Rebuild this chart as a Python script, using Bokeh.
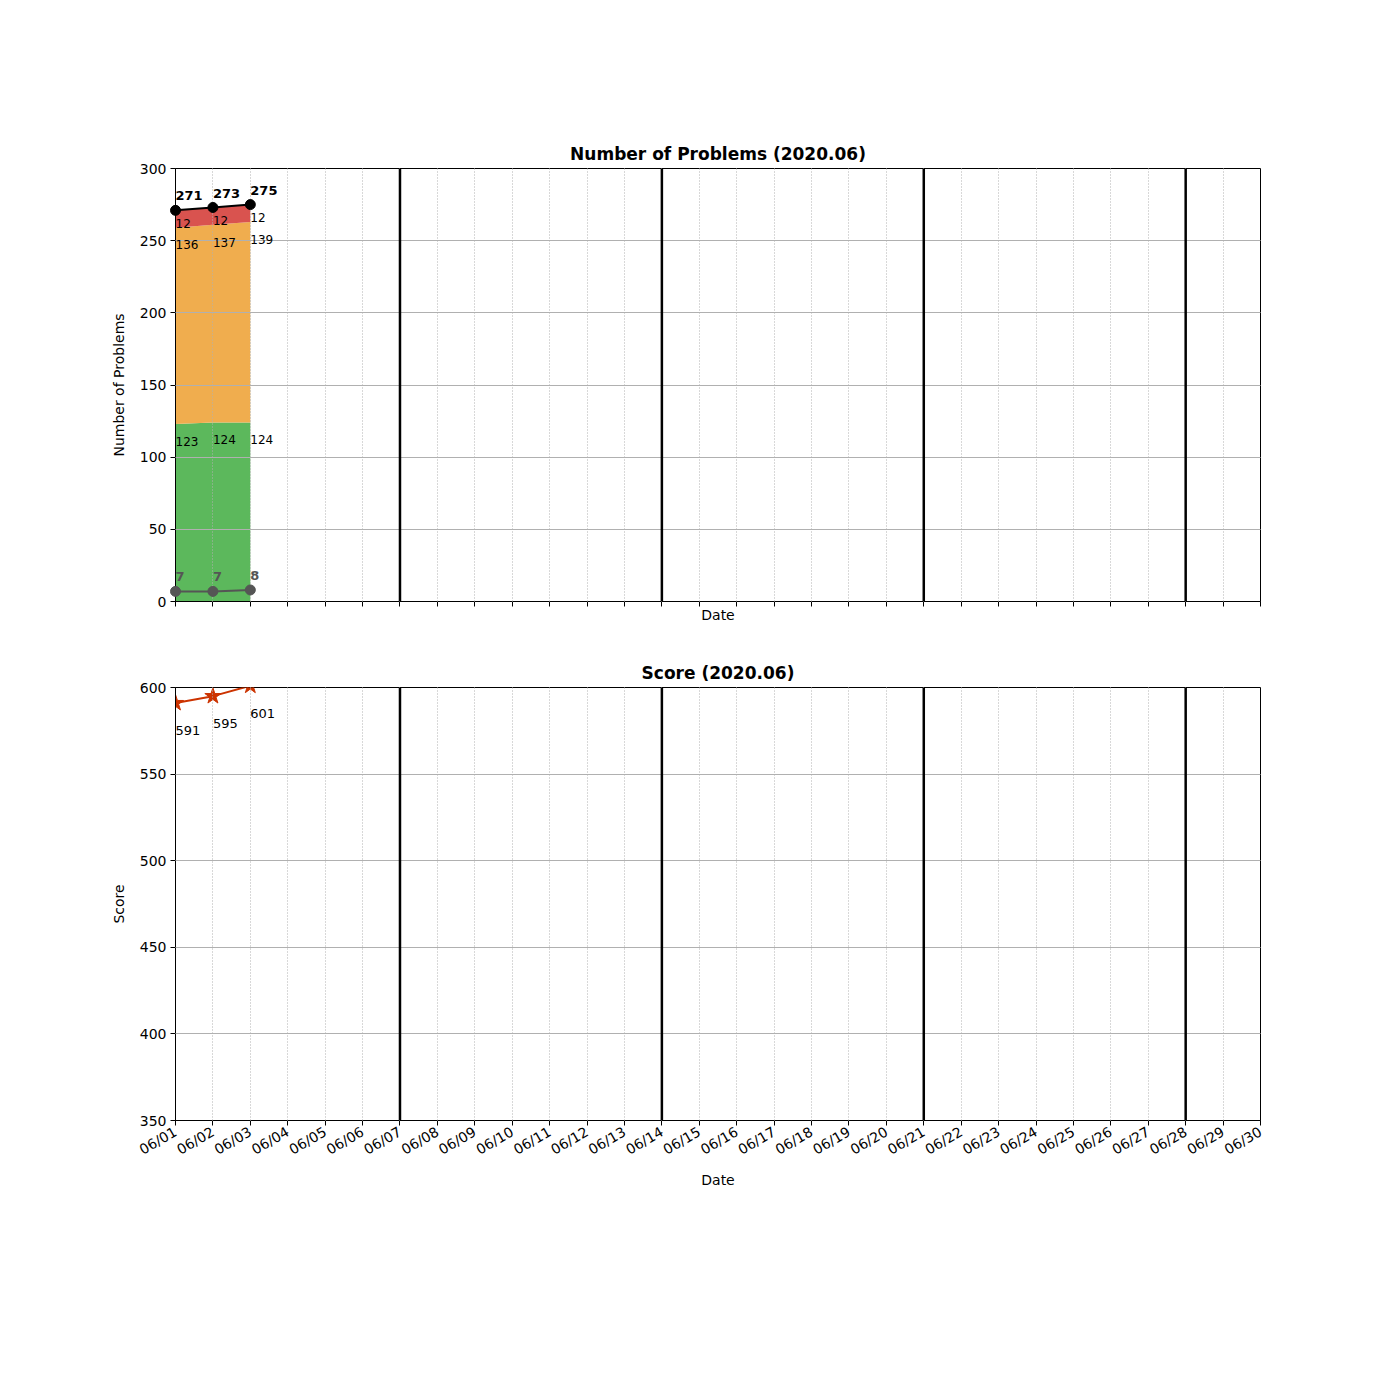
from datetime import datetime
import math
from bokeh.plotting import figure
from bokeh.layouts import column
from bokeh.models import (ColumnDataSource, Range1d, FixedTicker, DatetimeTickFormatter,
                          Span, CustomJSTickFormatter)
from bokeh.core.properties import value
from bokeh.embed import file_html
from bokeh.resources import INLINE

# ---- data ----
dates = ["2020-06-01", "2020-06-02", "2020-06-03"]
easy = [123, 124, 124]
medium = [136, 137, 139]
hard = [12, 12, 12]
total = [271, 273, 275]
other = [7, 7, 8]
score = [591, 595, 601]
month_days = ["2020-06-%02d" % d for d in range(1, 31)]
week_lines = ["2020-06-07", "2020-06-14", "2020-06-21", "2020-06-28"]

FONT = "DejaVu Sans"
GREEN, ORANGE, RED = "#5cb85c", "#f0ad4e", "#d9534f"
SCORE_C = "#cc3300"
GRAY = "#555555"

def d(s):
    return datetime.strptime(s, "%Y-%m-%d")

x = [d(s) for s in dates]
ticks = [d(s).timestamp() * 1000 for s in month_days]
x0, x1 = d(month_days[0]), d(month_days[-1])

med_top = [a + b for a, b in zip(easy, medium)]
hard_top = [a + b for a, b in zip(med_top, hard)]

src = ColumnDataSource(dict(
    x=x, easy=easy, medium=medium, hard=hard, total=total, other=other,
    score=score, med_top=med_top, hard_top=hard_top,
    easy_s=[str(v) for v in easy], med_s=[str(v) for v in medium],
    hard_s=[str(v) for v in hard], total_s=[str(v) for v in total],
    other_s=[str(v) for v in other], score_s=[str(v) for v in score],
    easy_ly=[v - 12 for v in easy], med_ly=[v - 12 for v in med_top],
    hard_ly=[v - 9 for v in total], total_ly=[v + 10 for v in total],
    other_ly=[v + 10 for v in other], score_ly=[v - 16 for v in score],
))

fmt = DatetimeTickFormatter(days="%m/%d", months="%m/%d", hours="%m/%d",
                            years="%m/%d", minutes="%m/%d", seconds="%m/%d",
                            milliseconds="%m/%d", minsec="%m/%d", hourmin="%m/%d")

def style(p, show_labels):
    p.title.text_font = FONT
    p.title.text_font_size = "17px"
    p.title.text_font_style = "bold"
    p.title.align = "center"
    p.title.text_color = "black"
    p.outline_line_color = "black"
    p.outline_line_width = 1
    p.outline_line_alpha = 1
    for ax in (p.xaxis[0], p.yaxis[0]):
        ax.axis_label_text_font = FONT
        ax.axis_label_text_font_size = "14px"
        ax.axis_label_text_font_style = "normal"
        ax.axis_label_text_color = "black"
        ax.major_label_text_font = FONT
        ax.major_label_text_font_size = "14px"
        ax.major_label_text_color = "black"
        ax.axis_line_color = "black"
        ax.major_tick_line_color = "black"
        ax.major_tick_out = 5
        ax.major_tick_in = 0
        ax.minor_tick_line_color = None
    xa = p.xaxis[0]
    xa.ticker = FixedTicker(ticks=ticks)
    xa.axis_label = "Date"
    if show_labels:
        xa.formatter = fmt
        xa.major_label_orientation = math.pi / 6
        xa.axis_label_standoff = 4
    else:
        xa.formatter = CustomJSTickFormatter(code="return ''")
        xa.major_label_standoff = 0
        xa.axis_label_standoff = 0
    p.yaxis[0].axis_label_standoff = 10
    p.yaxis[0].major_label_standoff = 4
    p.xgrid.ticker = FixedTicker(ticks=ticks)
    p.xgrid.grid_line_color = "#b0b0b0"
    p.xgrid.grid_line_dash = "1 2"
    p.xgrid.grid_line_width = 1
    p.xgrid.level = "annotation"
    p.ygrid.grid_line_color = "#b0b0b0"
    p.ygrid.grid_line_width = 1
    p.ygrid.level = "annotation"
    for w in week_lines:
        p.add_layout(Span(location=d(w), dimension="height", line_color="black",
                          line_width=2.5, level="overlay"))

# ---- top figure ----
p1 = figure(x_axis_type="datetime", frame_width=1085, frame_height=433,
            min_border_left=175, min_border_right=140, min_border_top=168,
            min_border_bottom=44, output_backend="svg", toolbar_location=None,
            title="Number of Problems (2020.06)",
            x_range=Range1d(x0, x1), y_range=Range1d(0, 300))
p1.yaxis[0].ticker = FixedTicker(ticks=[0, 50, 100, 150, 200, 250, 300])
p1.yaxis[0].axis_label = "Number of Problems"
style(p1, False)

p1.varea(x="x", y1=0, y2="easy", source=src, fill_color=GREEN, fill_alpha=1)
p1.varea(x="x", y1="easy", y2="med_top", source=src, fill_color=ORANGE, fill_alpha=1)
p1.varea(x="x", y1="med_top", y2="hard_top", source=src, fill_color=RED, fill_alpha=1)

p1.line(x="x", y="total", source=src, line_color="black", line_width=2, level="overlay")
p1.scatter(x="x", y="total", source=src, size=10, fill_color="black", line_color="black", level="overlay")
p1.line(x="x", y="other", source=src, line_color=GRAY, line_width=2, level="overlay")
p1.scatter(x="x", y="other", source=src, size=10, fill_color=GRAY, line_color=GRAY, level="overlay")

def labels(p, ycol, tcol, size, bold=False, color="black"):
    p.text(x="x", y=ycol, text=tcol, source=src, text_font=value(FONT),
           text_font_size=size, text_font_style="bold" if bold else "normal",
           text_color=color, text_align="left", text_baseline="middle", level="overlay")

labels(p1, "easy_ly", "easy_s", "12px")
labels(p1, "med_ly", "med_s", "12px")
labels(p1, "hard_ly", "hard_s", "12px")
labels(p1, "total_ly", "total_s", "13px", bold=True)
labels(p1, "other_ly", "other_s", "13px", bold=True, color=GRAY)

# ---- bottom figure ----
p2 = figure(x_axis_type="datetime", frame_width=1085, frame_height=433,
            min_border_left=175, min_border_right=140, min_border_top=42,
            min_border_bottom=280, output_backend="svg", toolbar_location=None,
            title="Score (2020.06)",
            x_range=Range1d(x0, x1), y_range=Range1d(350, 600))
p2.yaxis[0].ticker = FixedTicker(ticks=[350, 400, 450, 500, 550, 600])
p2.yaxis[0].axis_label = "Score"
style(p2, True)

p2.line(x="x", y="score", source=src, line_color=SCORE_C, line_width=2)
p2.scatter(x="x", y="score", source=src, marker="star", size=17,
           fill_color=SCORE_C, line_color=SCORE_C)
labels(p2, "score_ly", "score_s", "13px")

layout = column(p1, p2, spacing=0)
open("out.html", "w").write(file_html(layout, INLINE))
